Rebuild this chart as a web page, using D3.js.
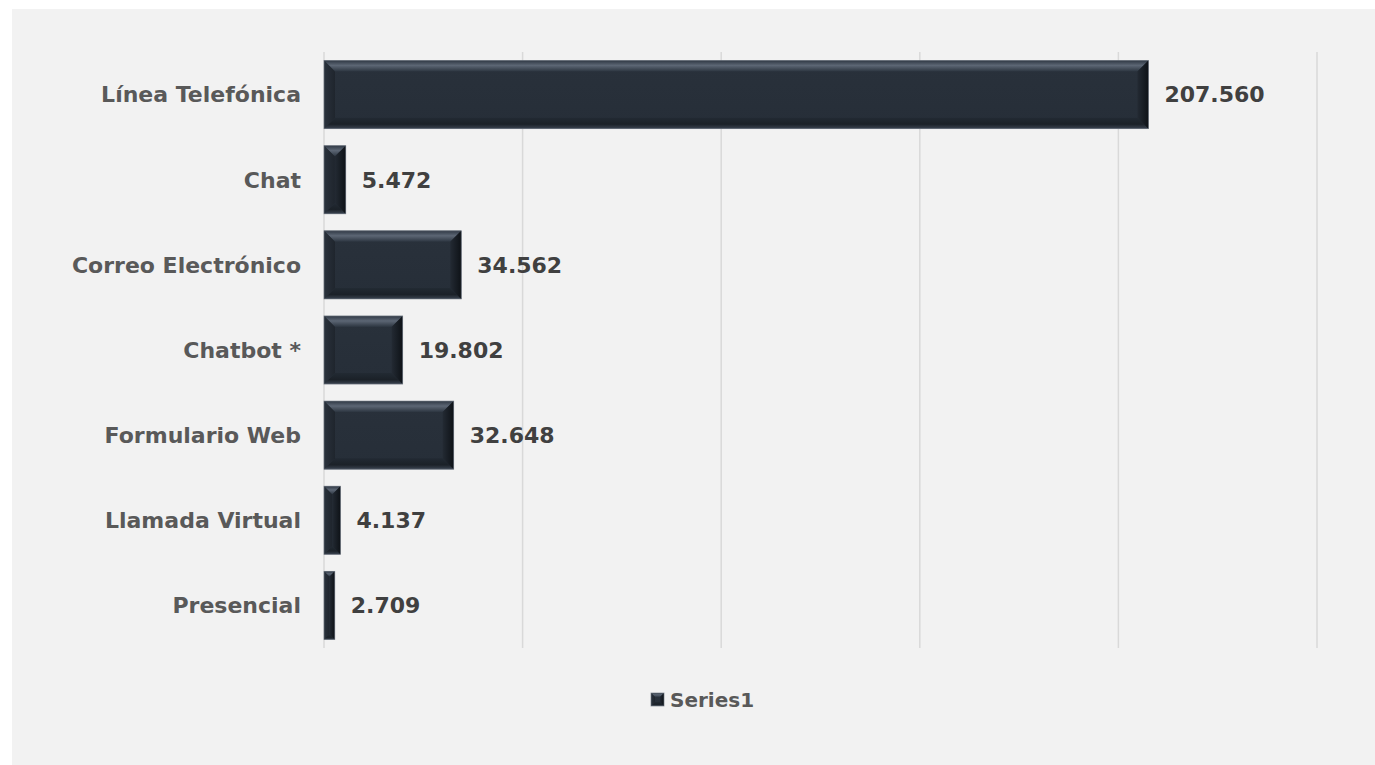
<!DOCTYPE html>
<html>
<head>
<meta charset="utf-8">
<script src="https://cdn.jsdelivr.net/npm/d3@7"></script>
<style>
  html, body { margin: 0; padding: 0; background: #ffffff; }
  svg { display: block; }
</style>
</head>
<body>
<svg id="chart" width="1375" height="765"></svg>
<script>
// Contact channels and their attention counts
const categories = ["Línea Telefónica", "Chat", "Correo Electrónico", "Chatbot *", "Formulario Web", "Llamada Virtual", "Presencial"];
const values = [207560, 5472, 34562, 19802, 32648, 4137, 2709];
const valueLabels = ["207.560", "5.472", "34.562", "19.802", "32.648", "4.137", "2.709"];
const xTicks = [0, 50000, 100000, 150000, 200000, 250000];
const seriesName = "Series1";

const W = 1375, H = 765;
const svg = d3.select("#chart");
const FONT = "'DejaVu Sans', 'Open Sans', sans-serif";

// chart panel
svg.append("rect").attr("x", 12).attr("y", 9).attr("width", W - 12).attr("height", H - 9).attr("fill", "#f2f2f2");

const plot = { left: 324, right: 1317, top: 52, bottom: 648 };

const x = d3.scaleLinear().domain([0, 250000]).range([plot.left, plot.right]);
const y = d3.scaleBand().domain(categories).range([plot.top, plot.bottom]).paddingInner(0.2).paddingOuter(0.1);

// vertical gridlines
svg.append("g").selectAll("line").data(xTicks).join("line")
  .attr("x1", d => x(d)).attr("x2", d => x(d))
  .attr("y1", plot.top).attr("y2", plot.bottom)
  .attr("stroke", "#d9d9d9").attr("stroke-width", 1.5);

// gradients for beveled bars
const defs = svg.append("defs");
function linGrad(id, x1, y1, x2, y2, stops) {
  const g = defs.append("linearGradient").attr("id", id)
    .attr("x1", x1).attr("y1", y1).attr("x2", x2).attr("y2", y2);
  stops.forEach(s => g.append("stop").attr("offset", s[0]).attr("stop-color", s[1]));
}
linGrad("bevTop", 0, 0, 0, 1, [[0, "#303945"], [0.45, "#5c6674"], [1, "#2c3540"]]);
linGrad("bevBot", 0, 0, 0, 1, [[0, "#222a33"], [0.6, "#1b2128"], [1, "#3a4350"]]);
linGrad("bevLeft", 0, 0, 1, 0, [[0, "#2a323c"], [1, "#1f252d"]]);
linGrad("bevRight", 0, 0, 1, 0, [[0, "#232a33"], [1, "#0e1217"]]);
linGrad("face", 0, 0, 0, 1, [[0, "#29313b"], [1, "#262e38"]]);

// draws one beveled rectangle
function bevelRect(g, x0, y0, w, h, b) {
  const bb = Math.min(b, w / 2, h / 2);
  const x1 = x0 + w, y1 = y0 + h;
  g.append("rect").attr("x", x0).attr("y", y0).attr("width", w).attr("height", h).attr("fill", "url(#face)");
  const poly = (pts, fill) => g.append("polygon").attr("points", pts.map(p => p.join(",")).join(" ")).attr("fill", fill);
  poly([[x0, y0], [x1, y0], [x1 - bb, y0 + bb], [x0 + bb, y0 + bb]], "url(#bevTop)");
  poly([[x0, y1], [x1, y1], [x1 - bb, y1 - bb], [x0 + bb, y1 - bb]], "url(#bevBot)");
  poly([[x0, y0], [x0 + bb, y0 + bb], [x0 + bb, y1 - bb], [x0, y1]], "url(#bevLeft)");
  poly([[x1, y0], [x1 - bb, y0 + bb], [x1 - bb, y1 - bb], [x1, y1]], "url(#bevRight)");
  g.append("rect").attr("x", x0).attr("y", y0).attr("width", w).attr("height", h)
    .attr("fill", "none").attr("stroke", "#6f7782").attr("stroke-width", 0.8).attr("stroke-opacity", 0.8);
}

const bars = svg.append("g");
categories.forEach((c, i) => {
  const g = bars.append("g");
  bevelRect(g, x(0), y(c), x(values[i]) - x(0), y.bandwidth(), 11);
});

// category labels
svg.append("g").selectAll("text").data(categories).join("text")
  .attr("x", plot.left - 23)
  .attr("y", d => y(d) + y.bandwidth() / 2)
  .attr("dy", "0.36em")
  .attr("text-anchor", "end")
  .attr("font-family", FONT).attr("font-weight", 700).attr("font-size", 22)
  .attr("fill", "#595959")
  .text(d => d);

// value labels
svg.append("g").selectAll("text").data(categories).join("text")
  .attr("x", (d, i) => x(values[i]) + 16)
  .attr("y", d => y(d) + y.bandwidth() / 2)
  .attr("dy", "0.36em")
  .attr("font-family", FONT).attr("font-weight", 700).attr("font-size", 22)
  .attr("fill", "#404040")
  .text((d, i) => valueLabels[i]);

// legend
const lg = svg.append("g").attr("transform", "translate(651,693)");
bevelRect(lg, 0, 0, 13, 13, 4);
lg.append("text").attr("x", 19).attr("y", 7).attr("dy", "0.36em")
  .attr("font-family", FONT).attr("font-weight", 700).attr("font-size", 20)
  .attr("fill", "#595959").text(seriesName);
</script>
</body>
</html>
